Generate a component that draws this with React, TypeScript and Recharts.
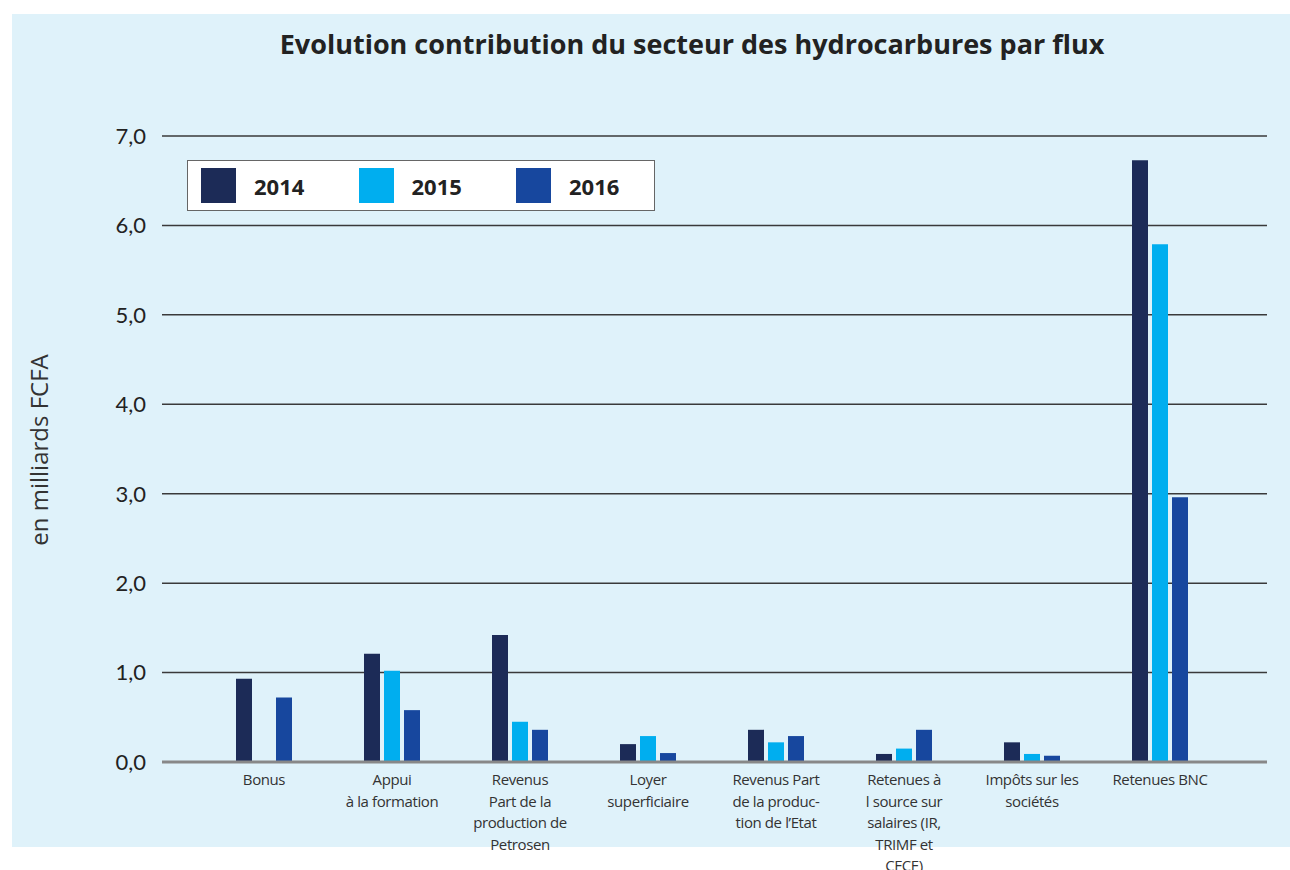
import { BarChart, Bar, XAxis, YAxis, CartesianGrid, Legend } from 'recharts';

const categories = [
  'Bonus',
  'Appui\nà la formation',
  'Revenus\nPart de la\nproduction de\nPetrosen',
  'Loyer\nsuperficiaire',
  'Revenus Part\nde la produc-\ntion de l’Etat',
  'Retenues à\nl source sur\nsalaires (IR,\nTRIMF et\nCFCE)',
  'Impôts sur les\nsociétés',
  'Retenues BNC',
];

const values2014 = [0.93, 1.21, 1.42, 0.2, 0.36, 0.09, 0.22, 6.73];
const values2015 = [0, 1.02, 0.45, 0.29, 0.22, 0.15, 0.09, 5.79];
const values2016 = [0.72, 0.58, 0.36, 0.1, 0.29, 0.36, 0.07, 2.96];

const yTicks = [0, 1, 2, 3, 4, 5, 6, 7];

const series = [
  { key: 'y2014', name: '2014', color: '#1c2b57' },
  { key: 'y2015', name: '2015', color: '#00aeef' },
  { key: 'y2016', name: '2016', color: '#17479e' },
];

const data = categories.map((c, i) => ({
  cat: c,
  y2014: values2014[i],
  y2015: values2015[i],
  y2016: values2016[i],
}));

const fmt = (v: number) => v.toFixed(1).replace('.', ',');

function CategoryTick({ x, y, payload }: any) {
  const lines = String(payload.value).split('\n');
  return (
    <text
      x={x}
      y={y}
      textAnchor="middle"
      fill="#333"
      fontSize={15}
      fontFamily="'Open Sans', sans-serif"
      letterSpacing={-0.4}
    >
      {lines.map((l, i) => (
        <tspan key={i} x={x} y={y + 23 + i * 21.5}>
          {l}
        </tspan>
      ))}
    </text>
  );
}

function LegendBox({ payload }: any) {
  return (
    <div
      style={{
        width: 468,
        height: 51,
        boxSizing: 'border-box',
        background: '#fff',
        border: '1px solid #666',
        position: 'relative',
      }}
    >
      {(payload || []).map((p: any, i: number) => (
        <div
          key={p.value}
          style={{ position: 'absolute', left: 13 + i * 157.5, top: 7, display: 'flex', alignItems: 'center' }}
        >
          <span style={{ width: 35, height: 35, background: p.color, display: 'inline-block' }} />
          <span
            style={{
              marginLeft: 18,
              fontFamily: "'Open Sans', sans-serif",
              fontWeight: 700,
              fontSize: 22,
              color: '#222',
            }}
          >
            {p.value}
          </span>
        </div>
      ))}
    </div>
  );
}

export default function App() {
  return (
    <div style={{ position: 'absolute', left: 0, top: 0, width: 1290, height: 870, background: '#fff', overflow: 'hidden' }}>
      <div style={{ position: 'absolute', left: 12, top: 14, width: 1278, height: 833, background: '#dff2fa' }} />
      <div
        style={{
          position: 'absolute',
          left: 0,
          top: 25,
          width: 1384,
          textAlign: 'center',
          fontFamily: "'Open Sans', sans-serif",
          fontWeight: 700,
          fontSize: 27,
          color: '#222',
        }}
      >
        Evolution contribution du secteur des hydrocarbures par flux
      </div>
      <div
        style={{
          position: 'absolute',
          left: 38,
          top: 450,
          transform: 'translate(-50%, -50%) rotate(-90deg)',
          whiteSpace: 'nowrap',
          fontFamily: "'Open Sans', sans-serif",
          fontSize: 24,
          color: '#333',
        }}
      >
        en milliards FCFA
      </div>
      <div style={{ position: 'absolute', left: 0, top: 0 }}>
        <BarChart
          width={1290}
          height={870}
          data={data}
          margin={{ top: 136, right: 23, bottom: 0, left: 102 }}
          barSize={16}
          barGap={4}
        >
          <CartesianGrid horizontal vertical={false} stroke="#3a3a3a" strokeWidth={1.5} />
          <XAxis
            dataKey="cat"
            interval={0}
            tickLine={false}
            tickSize={0}
            tickMargin={0}
            axisLine={{ stroke: '#888', strokeWidth: 3 }}
            padding={{ left: 38, right: 43 }}
            tick={<CategoryTick />}
            height={108}
          />
          <YAxis
            domain={[0, 7]}
            ticks={yTicks}
            tickFormatter={fmt}
            axisLine={false}
            tickLine={false}
            tickSize={0}
            tickMargin={16}
            width={60}
            tick={{ fill: '#222', fontSize: 22, fontFamily: 'Lato, sans-serif' }}
          />
          <Legend
            content={<LegendBox />}
            layout="horizontal"
            verticalAlign="middle"
            align="center"
            wrapperStyle={{ left: 187, top: 160, width: 468 }}
          />
          {series.map((s) => (
            <Bar key={s.key} dataKey={s.key} name={s.name} fill={s.color} isAnimationActive={false} />
          ))}
        </BarChart>
      </div>
    </div>
  );
}
